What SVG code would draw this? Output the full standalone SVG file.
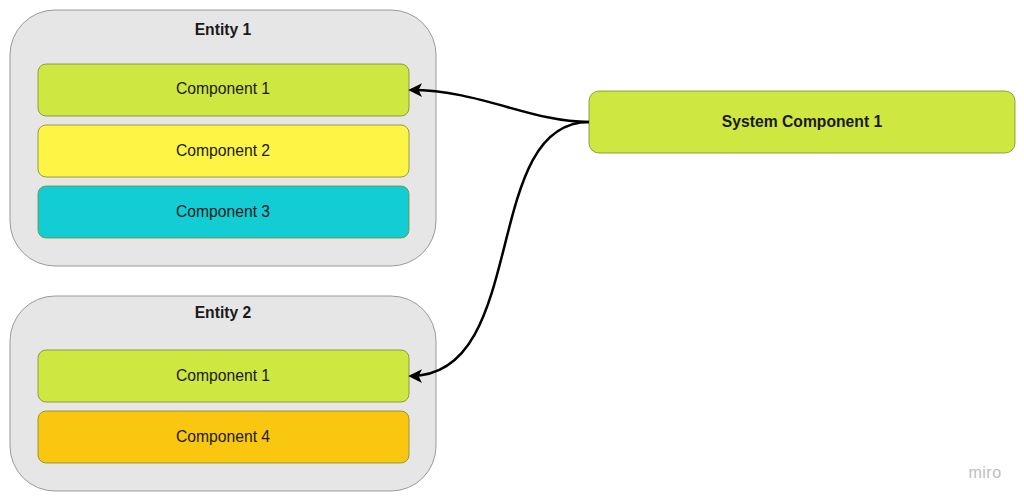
<svg xmlns="http://www.w3.org/2000/svg" width="1024" height="502" viewBox="0 0 1024 502">
<style>
.ent{fill:#e6e6e6;stroke:#9a9a9a;stroke-width:1}
.c{stroke:#7d8a2a;stroke-width:0.8}
.t{font-family:"Liberation Sans",Arial,sans-serif;font-size:15.7px;fill:#1a1a1a;text-anchor:middle;dominant-baseline:central}
.b{font-weight:bold}
.conn{fill:none;stroke:#000;stroke-width:2.5}
</style>
<defs>
<marker id="ah" viewBox="0 0 10 10" refX="8" refY="5" markerWidth="5.5" markerHeight="5.5" orient="auto-start-reverse" markerUnits="strokeWidth">
<path d="M0,0 L10,5 L0,10 L2.5,5 Z" fill="#000"/>
</marker>
</defs>
<rect width="1024" height="502" fill="#fff"/>
<g id="entity1">
<rect class="ent" x="10" y="10" width="426" height="256" rx="45"/>
<text class="t b" x="223" y="29">Entity 1</text>
</g>
<g id="e1c1">
<rect class="c" x="38" y="64" width="371" height="52" rx="8" fill="#cee741"/>
<text class="t" x="223" y="88">Component 1</text>
</g>
<g id="e1c2">
<rect class="c" x="38" y="125" width="371" height="52" rx="8" fill="#fef445" stroke="#a9a33a"/>
<text class="t" x="223" y="150">Component 2</text>
</g>
<g id="e1c3">
<rect class="c" x="38" y="186" width="371" height="52" rx="8" fill="#12cdd4" stroke="#1a8c90"/>
<text class="t" x="223" y="211">Component 3</text>
</g>
<g id="entity2">
<rect class="ent" x="10" y="296" width="426" height="195" rx="45"/>
<text class="t b" x="223" y="312">Entity 2</text>
</g>
<g id="e2c1">
<rect class="c" x="38" y="350" width="371" height="52" rx="8" fill="#cee741"/>
<text class="t" x="223" y="375">Component 1</text>
</g>
<g id="e2c4">
<rect class="c" x="38" y="411" width="371" height="52" rx="8" fill="#fac710" stroke="#9a7a1a"/>
<text class="t" x="223" y="436">Component 4</text>
</g>
<g id="system1">
<rect class="c" x="589" y="91" width="426" height="62" rx="10" fill="#cee741"/>
<text class="t b" x="802" y="121">System Component 1</text>
</g>
<g id="connectors">
<path class="conn" d="M589,122 C530,122 480,90 411,90" marker-end="url(#ah)"/>
<path class="conn" d="M589,122 C480,122 530,376 411,376" marker-end="url(#ah)"/>
</g>
<text x="985" y="478" font-family="'Liberation Sans',Arial,sans-serif" font-size="16" letter-spacing="0.5" fill="#bdbdbd" text-anchor="middle">miro</text>
</svg>
